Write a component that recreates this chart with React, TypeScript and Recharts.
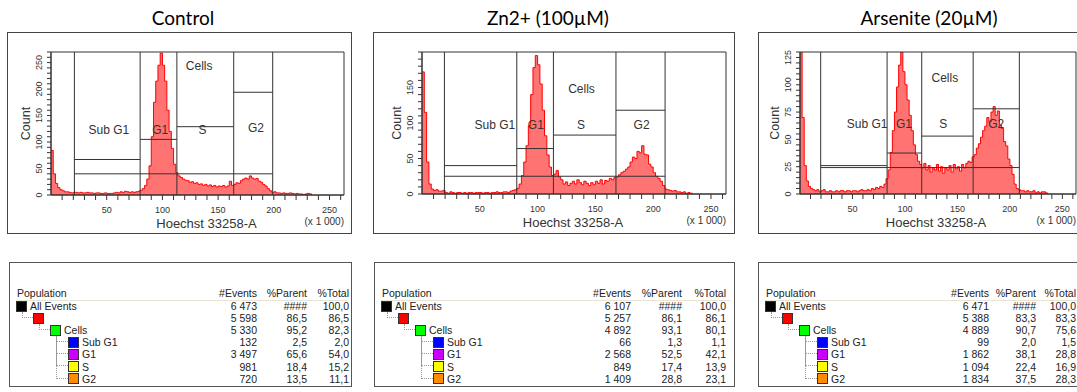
import React from "react";
import {
  AreaChart,
  Area,
  XAxis,
  YAxis,
  ReferenceLine,
  ReferenceArea,
  ReferenceDot,
  Label,
} from "recharts";

const FONT = "'Liberation Sans', Arial, Helvetica, sans-serif";
const INK = "#333";
const BIN_WIDTH = 2; // histogram channel width, in x 1 000 units
const X_MAX = 263;

// Hoechst histograms, one count per 2 000-wide channel starting at 0
const controlCounts = [
  84, 40, 22, 14, 10, 8, 6, 6, 5, 4,
  5, 5, 4, 5, 4, 4, 5, 4, 4, 3,
  4, 4, 3, 3, 4, 3, 3, 3, 4, 5,
  4, 6, 5, 7, 6, 5, 6, 5, 6, 7,
  9, 12, 18, 30, 55, 110, 175, 215, 245, 268,
  245, 215, 160, 120, 88, 58, 42, 36, 33, 30,
  28, 27, 24, 25, 22, 23, 20, 21, 18, 20,
  17, 19, 16, 18, 15, 17, 16, 18, 15, 17,
  26, 18, 20, 23, 22, 27, 30, 32, 30, 36,
  32, 30, 31, 26, 24, 20, 17, 12, 8, 5,
  6, 4, 4, 3, 4, 3, 3, 4, 3, 2,
  3, 2, 2, 1, 2, 3, 2, 0,
];

const zincCounts = [
  172, 115, 45, 14, 7, 5, 6, 4, 4, 5,
  2, 1, 3, 2, 1, 2, 2, 1, 2, 1,
  2, 2, 1, 2, 2, 2, 1, 2, 2, 1,
  2, 2, 3, 2, 2, 3, 3, 2, 4, 5,
  6, 8, 14, 26, 45, 68, 96, 140, 178, 195,
  182, 155, 118, 82, 55, 38, 26, 28, 33, 24,
  20, 14, 17, 12, 15, 18, 14, 20, 16, 13,
  18, 15, 12, 16, 13, 18, 15, 20, 14, 19,
  18, 22, 20, 23, 24, 27, 30, 32, 35, 38,
  45, 52, 50, 60, 58, 68, 56, 55, 42, 38,
  30, 25, 22, 18, 12, 7, 6, 5, 4, 5,
  3, 3, 2, 3, 1, 2, 1, 0,
];

const arseniteCounts = [
  135, 70, 26, 12, 7, 5, 4, 3, 4, 2,
  3, 4, 2, 2, 3, 2, 2, 3, 2, 3,
  3, 2, 3, 3, 2, 3, 3, 2, 3, 4,
  3, 3, 4, 3, 5, 4, 6, 5, 7, 6,
  9, 14, 22, 38, 58, 75, 98, 118, 130, 112,
  100, 86, 72, 58, 45, 36, 30, 27, 24, 28,
  22, 26, 20, 24, 22, 27, 21, 25, 19, 24,
  22, 26, 20, 27, 23, 25, 21, 27, 24, 28,
  30, 29, 34, 36, 42, 46, 52, 58, 62, 70,
  66, 75, 80, 72, 76, 63, 60, 48, 44, 32,
  26, 18, 9, 5, 4, 3, 3, 2, 3, 2,
  2, 3, 1, 2, 1, 2, 2, 1, 0,
];

const xTickLabels = [50, 100, 150, 200, 250];
const controlYLabels = [0, 50, 100, 150, 200, 250];
const zincYLabels = [0, 50, 100, 150];
const arseniteYLabels = [0, 25, 50, 75, 100, 125];

// gates: Cells, Sub G1, G1, S, G2
const gateNames = ["Cells", "Sub G1", "G1", "S", "G2"];
// edges: Sub G1 start, G1 start, S start, G2 start, G2 end
const controlGateEdges = [21, 80, 113, 164, 199];
const zincGateEdges = [19.4, 82, 113.7, 167.8, 210.3];
const arseniteGateEdges = [19.7, 83, 116, 165, 209];
// marker heights for Cells, Sub G1, G1, S, G2
const controlGateLevels = [40, 67, 105, 129, 194];
const zincGateLevels = [25, 40, 64, 83, 118];
const arseniteGateLevels = [24.2, 26, 37.5, 53, 78];

// population statistics tables
const populationNames = ["All Events", "", "Cells", "Sub G1", "G1", "S", "G2"];
const populationLevels = [0, 1, 2, 3, 3, 3, 3];
const populationColors = ["#000000", "#ff0000", "#00ff00", "#0000ff", "#cc00ff", "#ffff00", "#ff8c00"];

const controlEvents = [6473, 5598, 5330, 132, 3497, 981, 720];
const controlParent = [null, 86.5, 95.2, 2.5, 65.6, 18.4, 13.5];
const controlTotal = [100.0, 86.5, 82.3, 2.0, 54.0, 15.2, 11.1];

const zincEvents = [6107, 5257, 4892, 66, 2568, 849, 1409];
const zincParent = [null, 86.1, 93.1, 1.3, 52.5, 17.4, 28.8];
const zincTotal = [100.0, 86.1, 80.1, 1.1, 42.1, 13.9, 23.1];

const arseniteEvents = [6471, 5388, 4889, 99, 1862, 1094, 1834];
const arseniteParent = [null, 83.3, 90.7, 2.0, 38.1, 22.4, 37.5];
const arseniteTotal = [100.0, 83.3, 75.6, 1.5, 28.8, 16.9, 28.3];

function range(start: number, end: number, step: number) {
  const out: number[] = [];
  for (let v = start; v <= end + 1e-9; v += step) out.push(v);
  return out;
}

const PANELS = [
  {
    title: "Control",
    titleX: 183,
    frame: { left: 7, top: 32, right: 352, bottom: 234 },
    plot: { left: 51, top: 52, right: 344, bottom: 195 },
    counts: controlCounts,
    yMax: 270,
    yStep: 10,
    yLabels: controlYLabels,
    edges: controlGateEdges,
    levels: controlGateLevels,
    labelAt: [[133, 244], [52, 124], [98, 124], [136, 124], [184, 127]],
    xLabelShift: 9,
  },
  {
    title: "Zn2+ (100µM)",
    titleX: 548,
    frame: { left: 373, top: 32, right: 735, bottom: 234 },
    plot: { left: 422, top: 52, right: 726, bottom: 194 },
    counts: zincCounts,
    yMax: 200,
    yStep: 10,
    yLabels: zincYLabels,
    edges: zincGateEdges,
    levels: zincGateLevels,
    labelAt: [[138, 148], [63, 98], [98.5, 98], [137.5, 98], [190, 98]],
    xLabelShift: -1,
  },
  {
    title: "Arsenite (20µM)",
    titleX: 929,
    frame: { left: 758, top: 32, right: 1095, bottom: 234 },
    plot: { left: 800, top: 52, right: 1076, bottom: 194 },
    counts: arseniteCounts,
    yMax: 130,
    yStep: 5,
    yLabels: arseniteYLabels,
    edges: arseniteGateEdges,
    levels: arseniteGateLevels,
    labelAt: [[138, 106.5], [64, 64], [99, 64], [136.5, 64], [187, 64]],
    xLabelShift: -2,
  },
];

const TABLES = [
  { left: 9, width: 343, cols: [247, 297, 339], events: controlEvents, parent: controlParent, total: controlTotal },
  { left: 374, width: 361, cols: [256, 307, 351], events: zincEvents, parent: zincParent, total: zincTotal },
  { left: 758, width: 340, cols: [230, 277, 317], events: arseniteEvents, parent: arseniteParent, total: arseniteTotal },
];

function HistogramPanel({ p }: { p: (typeof PANELS)[number] }) {
  const { frame, plot } = p;
  const width = frame.right - frame.left;
  const height = frame.bottom - frame.top;
  const data = p.counts.map((count, i) => ({ x: i * BIN_WIDTH, count }));
  const [e0, e1, e2, e3, e4] = p.edges;
  const spans = [[e0, e4], [e0, e1], [e1, e2], [e2, e3], [e3, e4]];

  // positions inside the svg
  const plotL = plot.left - frame.left;
  const plotR = plot.right - frame.left;
  const plotT = plot.top - frame.top;
  const plotB = plot.bottom - frame.top;

  return (
    <>
      <div
        style={{
          position: "absolute",
          left: p.titleX - 120,
          top: 5,
          width: 240,
          textAlign: "center",
          fontFamily: "Lato, 'Open Sans', sans-serif",
          fontSize: 19,
          lineHeight: "26px",
          color: "#000",
        }}
      >
        {p.title}
      </div>
      <div
        style={{
          position: "absolute",
          left: frame.left,
          top: frame.top,
          width,
          height,
          border: "1px solid #444",
          boxSizing: "border-box",
        }}
      />
      <div style={{ position: "absolute", left: frame.left, top: frame.top }}>
        <AreaChart
          width={width}
          height={height}
          data={data}
          margin={{ top: plotT, right: frame.right - plot.right, bottom: 0, left: 0 }}
          style={{ fontFamily: FONT }}
        >
          <XAxis
            dataKey="x"
            type="number"
            domain={[0, X_MAX]}
            allowDataOverflow
            ticks={range(10, 260, 10)}
            interval={0}
            tickFormatter={(v) => (xTickLabels.includes(v) ? String(v) : "")}
            tickSize={5}
            tickMargin={7}
            height={frame.bottom - plot.bottom}
            stroke={INK}
            tick={{ fontSize: 9, fill: INK }}
          >
            <Label
              content={() => (
                <g>
                  <text
                    x={(plotL + plotR) / 2 + p.xLabelShift}
                    y={plotB + 28.5}
                    textAnchor="middle"
                    dominantBaseline="central"
                    fontSize={13}
                    fill={INK}
                  >
                    Hoechst 33258-A
                  </text>
                  <text
                    x={plotR}
                    y={plotB + 26.5}
                    textAnchor="end"
                    dominantBaseline="central"
                    fontSize={10}
                    fill={INK}
                  >
                    (x 1 000)
                  </text>
                </g>
              )}
            />
          </XAxis>
          <YAxis
            type="number"
            domain={[0, p.yMax]}
            allowDataOverflow
            ticks={range(0, p.yMax, p.yStep)}
            interval={0}
            width={plotL}
            tickSize={4}
            tickMargin={5}
            stroke={INK}
            tick={(props: any) => {
              const { x, y, payload } = props;
              if (!p.yLabels.includes(payload.value)) return <g />;
              return (
                <text
                  x={x}
                  y={y}
                  transform={`rotate(-90 ${x} ${y})`}
                  textAnchor="middle"
                  fontSize={9}
                  fill={INK}
                >
                  {payload.value}
                </text>
              );
            }}
          >
            <Label
              content={() => (
                <text
                  x={plotL - 25}
                  y={(plotT + plotB) / 2}
                  transform={`rotate(-90 ${plotL - 25} ${(plotT + plotB) / 2})`}
                  textAnchor="middle"
                  dominantBaseline="central"
                  fontSize={12.5}
                  fill={INK}
                >
                  Count
                </text>
              )}
            />
          </YAxis>
          <Area
            type="stepAfter"
            dataKey="count"
            stroke="#ff0000"
            strokeWidth={1}
            fill="#ff0000"
            fillOpacity={0.55}
            dot={false}
            activeDot={false}
            isAnimationActive={false}
          />
          <ReferenceArea x1={0} x2={X_MAX} y1={0} y2={p.yMax} fill="none" stroke={INK} />
          {p.edges.map((e) => (
            <ReferenceLine key={`v${e}`} x={e} stroke={INK} />
          ))}
          {spans.map(([a, b], i) => (
            <ReferenceLine
              key={`h${i}`}
              segment={[
                { x: a, y: p.levels[i] },
                { x: b, y: p.levels[i] },
              ]}
              stroke={INK}
            />
          ))}
          {gateNames.map((name, i) => (
            <ReferenceDot
              key={name}
              x={p.labelAt[i][0]}
              y={p.labelAt[i][1]}
              r={0}
              fill="none"
              stroke="none"
              label={{ value: name, position: "center", fontSize: 12, fill: INK }}
            />
          ))}
        </AreaChart>
      </div>
    </>
  );
}

function formatEvents(n: number) {
  return n >= 1000 ? `${Math.floor(n / 1000)} ${String(n % 1000).padStart(3, "0")}` : String(n);
}

function formatPct(v: number | null) {
  return v === null ? "####" : v.toFixed(1).replace(".", ",");
}

const SQUARE_X = [6, 23, 40, 58];
const SQUARE = 11;

function PopulationTable({ t }: { t: (typeof TABLES)[number] }) {
  const rowCenter = (i: number) => 43 + i * 12.1;
  const cell = (right: number, center: number, text: string, key: string) => (
    <div
      key={key}
      style={{
        position: "absolute",
        left: right - 70,
        width: 70,
        top: center - 7,
        height: 14,
        lineHeight: "14px",
        textAlign: "right",
      }}
    >
      {text}
    </div>
  );

  // parent row for each tree row
  const parentOf = [-1, 0, 1, 2, 2, 2, 2];

  return (
    <div
      style={{
        position: "absolute",
        left: t.left,
        top: 262,
        width: t.width,
        height: 125,
        border: "1px solid #555",
        boxSizing: "border-box",
        fontFamily: FONT,
        fontSize: 10.5,
        color: "#222",
        background: "#fff",
      }}
    >
      <div style={{ position: "absolute", left: 7, top: 23, lineHeight: "14px" }}>Population</div>
      {cell(t.cols[0], 30, "#Events", "h0")}
      {cell(t.cols[1], 30, "%Parent", "h1")}
      {cell(t.cols[2], 30, "%Total", "h2")}
      <div style={{ position: "absolute", left: 6, right: 4, top: 37, height: 1, background: "#e8e3d3" }} />

      {populationNames.map((_, i) => {
        const pi = parentOf[i];
        if (pi < 0) return null;
        const px = SQUARE_X[populationLevels[pi]] + SQUARE / 2;
        const pBottom = rowCenter(pi) + SQUARE / 2;
        const cx = SQUARE_X[populationLevels[i]];
        return (
          <div
            key={`link${i}`}
            style={{
              position: "absolute",
              left: px,
              top: pBottom,
              width: cx - px,
              height: rowCenter(i) - pBottom,
              borderLeft: "1px dotted #999",
              borderBottom: "1px dotted #999",
              boxSizing: "border-box",
            }}
          />
        );
      })}

      {populationNames.map((name, i) => {
        const c = rowCenter(i);
        const sx = SQUARE_X[populationLevels[i]];
        return (
          <React.Fragment key={`row${i}`}>
            <div
              style={{
                position: "absolute",
                left: sx,
                top: c - SQUARE / 2,
                width: SQUARE,
                height: SQUARE,
                background: populationColors[i],
                border: "1px solid #333",
                boxSizing: "border-box",
              }}
            />
            <div style={{ position: "absolute", left: sx + SQUARE + 3, top: c - 7, lineHeight: "14px" }}>{name}</div>
            {cell(t.cols[0], c, formatEvents(t.events[i]), `e${i}`)}
            {cell(t.cols[1], c, formatPct(t.parent[i]), `p${i}`)}
            {cell(t.cols[2], c, formatPct(t.total[i]), `t${i}`)}
          </React.Fragment>
        );
      })}
    </div>
  );
}

export default function App() {
  return (
    <div
      style={{
        position: "fixed",
        left: 0,
        top: 0,
        width: 1077,
        height: 392,
        overflow: "hidden",
        background: "#fff",
      }}
    >
      {PANELS.map((p) => (
        <HistogramPanel key={p.title} p={p} />
      ))}
      {TABLES.map((t) => (
        <PopulationTable key={t.left} t={t} />
      ))}
    </div>
  );
}
